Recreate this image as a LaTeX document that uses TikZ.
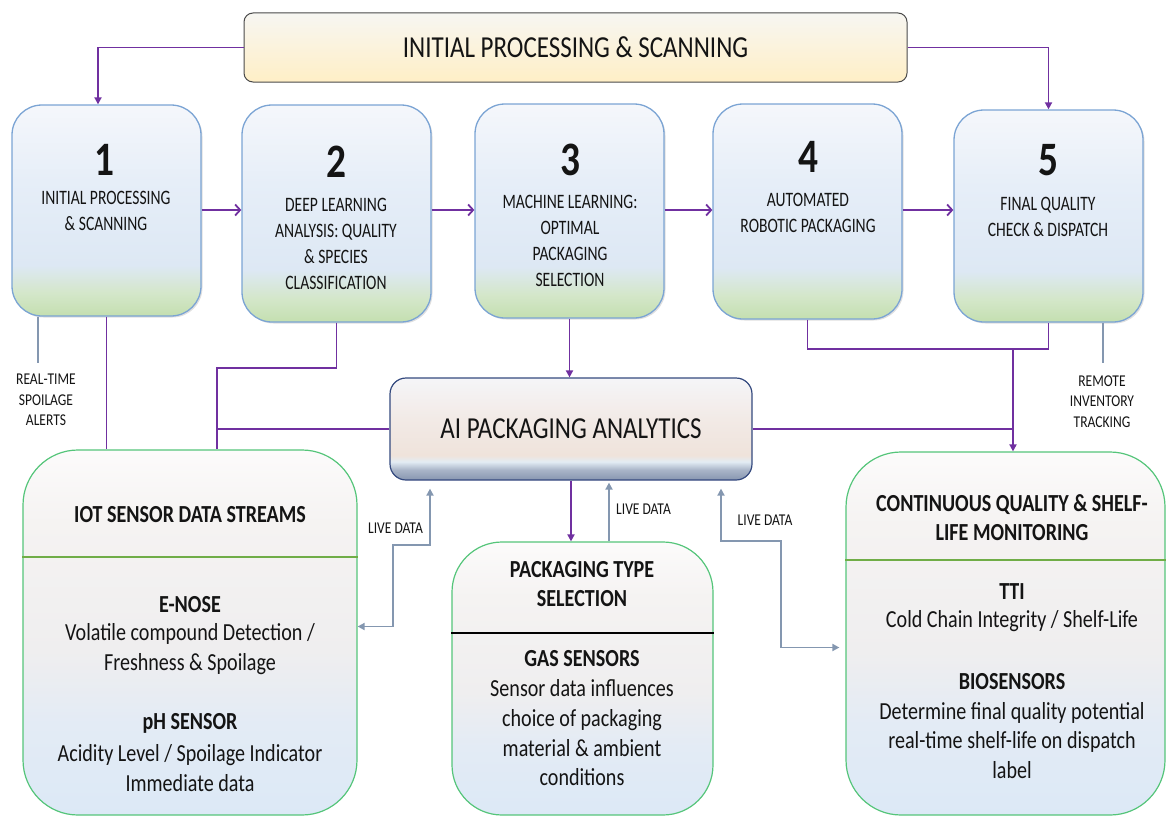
\documentclass[tikz,border=0pt]{standalone}
\usepackage{fontspec}
\setmainfont{Carlito}[FakeStretch=0.82]
\newfontfamily\condf{Carlito}[FakeStretch=0.76]
\usetikzlibrary{arrows.meta,shadows,calc}

\definecolor{pur}{HTML}{7030A0}
\definecolor{livec}{HTML}{8497B0}
\definecolor{stepb}{HTML}{7BA4D4}
\definecolor{lowb}{HTML}{55C57A}
\definecolor{divg}{HTML}{70AD47}
\definecolor{bannerb}{HTML}{4A4A4A}
\definecolor{aib}{HTML}{34497E}
\definecolor{txt}{HTML}{141414}
\definecolor{sg1}{HTML}{C4DFB0}
\definecolor{sg2}{HTML}{D4E7CA}
\definecolor{sb1}{HTML}{DDE8F4}
\definecolor{sb2}{HTML}{E6EEF8}
\definecolor{sb3}{HTML}{F5F7FB}
\definecolor{bn1}{HTML}{FFEFC6}
\definecolor{bn2}{HTML}{F7F6F2}
\definecolor{ai1}{HTML}{8796B0}
\definecolor{ai2}{HTML}{A9B5C8}
\definecolor{ai3}{HTML}{E3ECF4}
\definecolor{ai4}{HTML}{EFE3DB}
\definecolor{ai5}{HTML}{F2EAE6}
\definecolor{ai6}{HTML}{F5F5F8}
\definecolor{lw1}{HTML}{DCE9F6}
\definecolor{lw2}{HTML}{E3EBF5}
\definecolor{lw3}{HTML}{EFEEEF}
\definecolor{lw4}{HTML}{F5F3F2}
\definecolor{lw5}{HTML}{FCFBFB}

% path bounding box maps onto 25bp..75bp
\pgfdeclareverticalshading{stepshade}{100bp}{color(0bp)=(sg1); color(25bp)=(sg1); color(30.5bp)=(sg2); color(37bp)=(sb1); color(57bp)=(sb2); color(75bp)=(sb3); color(100bp)=(sb3)}
\pgfdeclareverticalshading{bannershade}{100bp}{color(0bp)=(bn1); color(25bp)=(bn1); color(75bp)=(bn2); color(100bp)=(bn2)}
\pgfdeclareverticalshading{aishade}{100bp}{color(0bp)=(ai1); color(25bp)=(ai1); color(30bp)=(ai2); color(34bp)=(ai3); color(37bp)=(ai4); color(55bp)=(ai5); color(75bp)=(ai6); color(100bp)=(ai6)}
\pgfdeclareverticalshading{lowshade}{100bp}{color(0bp)=(lw1); color(25bp)=(lw1); color(37.5bp)=(lw2); color(47.5bp)=(lw3); color(65bp)=(lw4); color(75bp)=(lw5); color(100bp)=(lw5)}

\begin{document}
\begin{tikzpicture}[x=1pt,y=-1pt,
  every node/.style={text=txt},
  banner/.style={rectangle, rounded corners=9pt, draw=bannerb, line width=1pt, shading=bannershade,
    minimum width=663pt, minimum height=69pt, inner sep=0pt, font=\fontsize{30.5}{34}\selectfont},
  stepbox/.style={rectangle, rounded corners=30pt, draw=stepb, line width=1.3pt, shading=stepshade,
    minimum width=189pt, inner sep=0pt, drop shadow={opacity=0.25, shadow xshift=1.5pt, shadow yshift=-1.5pt}},
  num/.style={inner sep=0pt, font=\bfseries\fontsize{48}{50}\selectfont},
  steptxt/.style={inner sep=0pt, align=center, font=\condf\fontsize{20.5}{26}\selectfont},
  aibox/.style={rectangle, rounded corners=16pt, draw=aib, line width=1.2pt, shading=aishade,
    minimum width=362pt, minimum height=102pt, inner sep=0pt, font=\fontsize{30.5}{34}\selectfont},
  lowbox/.style={rectangle, rounded corners=55pt, draw=lowb, line width=1.2pt, shading=lowshade, inner sep=0pt},
  ttl/.style={inner sep=0pt, align=center, font=\bfseries\fontsize{24.5}{29.5}\selectfont},
  body/.style={inner sep=0pt, align=center, font=\fontsize{24.5}{29.7}\selectfont},
  small/.style={inner sep=0pt, align=center, font=\fontsize{16.5}{20.5}\selectfont},
  flow/.style={draw=pur, line width=1.8pt},
  live/.style={draw=livec, line width=1.8pt},
  tri/.style={-{Triangle[length=7pt,width=7pt]}},
  barb/.style={-{Straight Barb[length=5pt,width=11pt,line width=1.8pt]}},
  ltip/.style={{Triangle[length=7pt,width=7pt]}-{Triangle[length=7pt,width=7pt]}}
]
\useasboundingbox (0,0) rectangle (1166,816);

% top banner
\node[banner] (banner) at (575.5,47.5) {INITIAL PROCESSING \& SCANNING};

% step boxes
\node[stepbox, minimum height=211pt] (s1) at (106.5,210.5) {};
\node[stepbox, minimum height=217pt] (s2) at (336.5,213.5) {};
\node[stepbox, minimum height=214pt] (s3) at (569.5,211) {};
\node[stepbox, minimum height=215pt] (s4) at (807.5,211.5) {};
\node[stepbox, minimum height=212pt] (s5) at (1048.5,216) {};

\node[num] (n1) at (104,160) {1};
\node[num] (n2) at (336,162) {2};
\node[num] (n3) at (570,160) {3};
\node[num] (n4) at (808,157) {4};
\node[num] (n5) at (1048,160) {5};

\node[steptxt] (t1) at (106,211) {INITIAL PROCESSING\\\& SCANNING};
\node[steptxt] (t2) at (336,243.5) {DEEP LEARNING\\ANALYSIS: QUALITY\\\& SPECIES\\CLASSIFICATION};
\node[steptxt] (t3) at (570,241) {MACHINE LEARNING:\\OPTIMAL\\PACKAGING\\SELECTION};
\node[steptxt] (t4) at (808,212.5) {AUTOMATED\\ROBOTIC PACKAGING};
\node[steptxt] (t5) at (1048,217) {FINAL QUALITY\\CHECK \& DISPATCH};

% AI box
\node[aibox] (ai) at (571,429) {AI PACKAGING ANALYTICS};

% lower boxes
\node[lowbox, minimum width=334pt, minimum height=365pt] (iot) at (190,632.5) {};
\node[lowbox, rounded corners=50pt, minimum width=261pt, minimum height=273pt] (pkg) at (582.5,678.5) {};
\node[lowbox, minimum width=319pt, minimum height=363pt] (cqs) at (1005.5,633.5) {};

\draw[divg, line width=2pt] (iot.west |- 0,557) -- (iot.east |- 0,557);
\draw[black, line width=2pt] (pkg.west |- 0,633) -- (pkg.east |- 0,633);
\draw[divg, line width=2pt] (cqs.west |- 0,560) -- (cqs.east |- 0,560);

\node[ttl] (iott) at (190,515) {IOT SENSOR DATA STREAMS};
\node[ttl] (iotb1) at (190,605) {E-NOSE};
\node[body] (iotb2) at (190,649) {Volatile compound Detection /\\Freshness \& Spoilage};
\node[ttl] (iotb3) at (190,723) {pH SENSOR};
\node[body] (iotb4) at (190,768) {Acidity Level / Spoilage Indicator\\Immediate data};

\node[ttl] (pkgt) at (582,584) {PACKAGING TYPE\\SELECTION};
\node[ttl] (pkgb1) at (582,659) {GAS SENSORS};
\node[body] (pkgb2) at (582,733) {Sensor data influences\\choice of packaging\\material \& ambient\\conditions};

\node[ttl] (cqst) at (1012,517.5) {CONTINUOUS QUALITY \& SHELF-\\LIFE MONITORING};
\node[ttl] (cqsb1) at (1012,592) {TTI};
\node[body] (cqsb2) at (1012,621) {Cold Chain Integrity / Shelf-Life};
\node[ttl] (cqsb3) at (1012,682) {BIOSENSORS};
\node[body] (cqsb4) at (1012,740.5) {Determine final quality potential\\real-time shelf-life on dispatch\\label};

% side labels
\node[small] (alerts) at (46,400) {REAL-TIME\\SPOILAGE\\ALERTS};
\node[small] (remote) at (1102,401.5) {REMOTE\\INVENTORY\\TRACKING};
\node[small] (ld1) at (395.5,528) {LIVE DATA};
\node[small] (ld2) at (643.5,509) {LIVE DATA};
\node[small] (ld3) at (765,520) {LIVE DATA};

% junction coordinates
\coordinate (j2) at (217,368);
\coordinate (j4) at (1013,349);
\coordinate (l1a) at (393,545);
\coordinate (l1b) at (430,545);
\coordinate (l3a) at (721,541);
\coordinate (l3b) at (781,541);

% banner connectors
\draw[flow, tri] (banner.west) -| ([xshift=-8.5pt]s1.north);
\draw[flow, tri] (banner.east) -| (s5.north);

% step arrows
\draw[flow, barb] (s1.east |- 0,210) -- (s2.west |- 0,210);
\draw[flow, barb] (s2.east |- 0,210) -- (s3.west |- 0,210);
\draw[flow, barb] (s3.east |- 0,210) -- (s4.west |- 0,210);
\draw[flow, barb] (s4.east |- 0,210) -- (s5.west |- 0,210);

% down connectors
\draw[flow] (s1.south) -- (s1.south |- iot.north);
\draw[flow] (s2.south) |- (j2) -- (j2 |- iot.north);
\draw[flow] (ai.west) -- (ai.west -| j2);
\draw[flow, tri] (s3.south) -- (s3.south |- ai.north);
\draw[flow] (s4.south) |- (j4) -| (s5.south);
\draw[flow, tri] (j4) -- (j4 |- cqs.north);
\draw[flow] (ai.east) -- (ai.east -| j4);
\draw[flow, tri] (ai.south) -- (ai.south |- pkg.north);

% thin label lines
\draw[live, line width=1.4pt] ([xshift=-68.5pt]s1.south) -- ++(0,46);
\draw[live, line width=1.4pt] ([xshift=54.5pt]s5.south) -- ++(0,40);

% live data
\draw[live, ltip, shorten >=8pt] ([yshift=6pt]iot.east) -| (l1a) -- (l1b) -- (l1b |- ai.south);
\draw[live, tri, shorten >=2pt] ([xshift=26.5pt]pkg.north) -- ([xshift=26.5pt]pkg.north |- ai.south);
\draw[live, ltip, shorten <=8pt, shorten >=6pt] (l3a |- ai.south) -- (l3a) -- (l3b) |- ([yshift=-14pt]cqs.west);
\end{tikzpicture}
\end{document}
